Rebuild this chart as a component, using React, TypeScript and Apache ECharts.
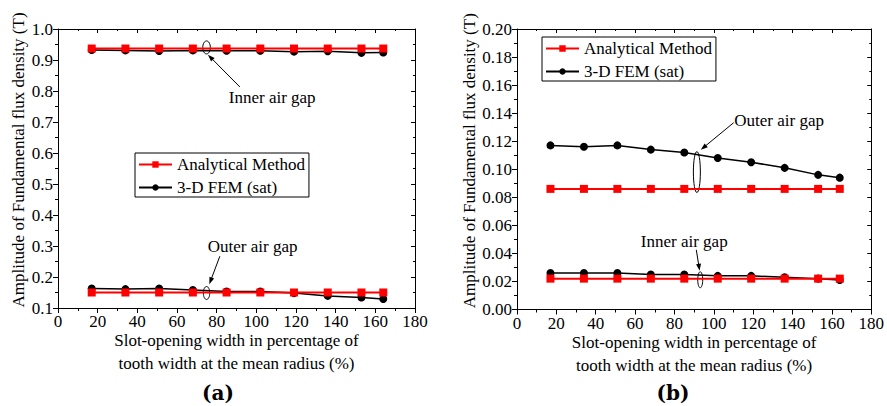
import React, { useEffect, useRef } from 'react';
import * as echarts from 'echarts';

// Slot-opening width (% of tooth width at the mean radius)
const xValues = [17, 34, 51, 68, 85, 102, 119, 136, 153, 164];

// (a) inner / outer air gap
const aInnerAnalytical = [0.937, 0.937, 0.937, 0.937, 0.937, 0.937, 0.937, 0.937, 0.937, 0.937];
const aInnerFem = [0.932, 0.931, 0.929, 0.931, 0.930, 0.930, 0.927, 0.928, 0.923, 0.924];
const aOuterAnalytical = [0.150, 0.150, 0.150, 0.150, 0.150, 0.150, 0.150, 0.150, 0.150, 0.150];
const aOuterFem = [0.163, 0.161, 0.163, 0.158, 0.153, 0.153, 0.148, 0.139, 0.134, 0.129];

// (b) outer / inner air gap
const bOuterAnalytical = [0.086, 0.086, 0.086, 0.086, 0.086, 0.086, 0.086, 0.086, 0.086, 0.086];
const bOuterFem = [0.117, 0.116, 0.117, 0.114, 0.112, 0.108, 0.105, 0.101, 0.096, 0.094];
const bInnerAnalytical = [0.022, 0.022, 0.022, 0.022, 0.022, 0.022, 0.022, 0.022, 0.022, 0.022];
const bInnerFem = [0.026, 0.026, 0.026, 0.025, 0.025, 0.024, 0.024, 0.023, 0.022, 0.021];

const seriesNames = ['Analytical Method', '3-D FEM (sat)'];
const xTitle = 'Slot-opening width in percentage of\ntooth width at the mean radius (%)';
const yTitle = 'Amplitude of Fundamental flux density (T)';
const panelLabels = ['(a)', '(b)'];

// annotations in data coordinates: [grid, text, textX, textY, arrowFromX, arrowFromY, arrowToX, arrowToY, ellipseX, ellipseY, rx, ry]
const annotations: [number, string, number, number, number, number, number, number, number, number, number, number][] = [
  [0, 'Inner air gap', 86.1, 0.778, 91.7, 0.813, 75.6, 0.917, 74.9, 0.9405, 3.8, 6.5],
  [0, 'Outer air gap', 75.5, 0.297, 81.6, 0.267, 76.3, 0.1765, 74.9, 0.1484, 3.2, 6.5],
  [1, 'Outer air gap', 110.4, 0.1348, 110.1, 0.1332, 93.4, 0.1139, 91.4, 0.098, 3.5, 20.5],
  [1, 'Inner air gap', 62.9, 0.0485, 91.1, 0.0426, 92.8, 0.0276, 93.1, 0.0212, 2.5, 8],
];

const FONT = 'Liberation Serif';

const pairs = (ys: number[]) => xValues.map((x, i) => [x, ys[i]]);

function makeSeries(name: string, data: number[][], idx: number, analytical: boolean) {
  return {
    type: 'line',
    name,
    xAxisIndex: idx * 2,
    yAxisIndex: idx * 2,
    data,
    symbol: analytical ? 'rect' : 'circle',
    symbolSize: 8,
    z: analytical ? 3 : 2,
    itemStyle: { color: analytical ? '#ff0000' : '#000000' },
    lineStyle: { color: analytical ? '#ff0000' : '#000000', width: analytical ? 2 : 1.5 },
  };
}

function xAxes(grid: number) {
  const common = {
    gridIndex: grid,
    type: 'value',
    min: 0,
    max: 180,
    interval: 20,
    splitLine: { show: false },
    axisLine: { show: true, onZero: false, lineStyle: { color: '#000', width: 1 } },
  };
  return [
    {
      ...common,
      position: 'bottom',
      axisTick: { show: true, inside: false, length: 5, lineStyle: { color: '#000' } },
      minorTick: { show: true, splitNumber: 2, length: 3, lineStyle: { color: '#000' } },
      axisLabel: { color: '#000', fontFamily: FONT, fontSize: 17, margin: 5 },
      name: xTitle,
      nameLocation: 'middle',
      nameGap: 21,
      nameMoveOverlap: false,
      nameTextStyle: { color: '#000', fontFamily: FONT, fontSize: 17, lineHeight: 23 },
    },
    {
      ...common,
      position: 'top',
      axisTick: { show: true, inside: true, length: 4, lineStyle: { color: '#000' } },
      minorTick: { show: true, splitNumber: 2, length: 2, lineStyle: { color: '#000' } },
      axisLabel: { show: false },
    },
  ];
}

function yAxes(grid: number, min: number, max: number, interval: number, digits: number, nameGap: number) {
  const common = {
    gridIndex: grid,
    type: 'value',
    min,
    max,
    interval,
    splitLine: { show: false },
    axisLine: { show: true, onZero: false, lineStyle: { color: '#000', width: 1 } },
  };
  return [
    {
      ...common,
      position: 'left',
      axisTick: { show: true, inside: false, length: 5, lineStyle: { color: '#000' } },
      minorTick: { show: true, splitNumber: 2, length: 3, lineStyle: { color: '#000' } },
      axisLabel: {
        color: '#000',
        fontFamily: FONT,
        fontSize: 17,
        margin: 5,
        formatter: (v: number) => v.toFixed(digits),
      },
      name: yTitle,
      nameLocation: 'middle',
      nameGap,
      nameMoveOverlap: false,
      nameTextStyle: { color: '#000', fontFamily: FONT, fontSize: 17, padding: [0, 0, 0, 17] },
    },
    {
      ...common,
      position: 'right',
      axisTick: { show: true, inside: true, length: 4, lineStyle: { color: '#000' } },
      minorTick: { show: true, splitNumber: 2, length: 2, lineStyle: { color: '#000' } },
      axisLabel: { show: false },
    },
  ];
}

function legend(left: number, top: number) {
  return {
    show: true,
    left,
    top,
    orient: 'vertical',
    data: seriesNames,
    selectedMode: false,
    borderColor: '#000',
    borderWidth: 1,
    padding: [3, 4, 1, 3],
    itemWidth: 33,
    itemHeight: 8,
    itemGap: 6,
    textStyle: { color: '#000', fontFamily: FONT, fontSize: 17 },
  };
}

export default function App() {
  const ref = useRef<HTMLDivElement>(null);

  useEffect(() => {
    if (!ref.current) return;
    const chart = echarts.init(ref.current, undefined, { renderer: 'svg' });
    const option: any = {
      animation: false,
      backgroundColor: '#ffffff',
      textStyle: { fontFamily: FONT },
      grid: [
        { left: 58, right: 472, top: 29, bottom: 98 },
        { left: 517, right: 13, top: 29, bottom: 96.5 },
      ],
      xAxis: [...xAxes(0), ...xAxes(1)],
      yAxis: [...yAxes(0, 0.1, 1.0, 0.1, 1, 31), ...yAxes(1, 0, 0.2, 0.02, 2, 39)],
      legend: [legend(135, 153), legend(542, 37)],
      series: [
        makeSeries(seriesNames[1], pairs(aInnerFem), 0, false),
        makeSeries(seriesNames[0], pairs(aInnerAnalytical), 0, true),
        makeSeries(seriesNames[1], pairs(aOuterFem), 0, false),
        makeSeries(seriesNames[0], pairs(aOuterAnalytical), 0, true),
        makeSeries(seriesNames[1], pairs(bOuterFem), 1, false),
        makeSeries(seriesNames[0], pairs(bOuterAnalytical), 1, true),
        makeSeries(seriesNames[1], pairs(bInnerFem), 1, false),
        makeSeries(seriesNames[0], pairs(bInnerAnalytical), 1, true),
      ],
    };
    chart.setOption(option);

    const graphics: any[] = [];
    annotations.forEach(([g, text, tx, ty, fx, fy, ex, ey, cx, cy, rx, ry]) => {
      const tp = chart.convertToPixel({ gridIndex: g } as any, [tx, ty]) as number[];
      const fp = chart.convertToPixel({ gridIndex: g } as any, [fx, fy]) as number[];
      const ep = chart.convertToPixel({ gridIndex: g } as any, [ex, ey]) as number[];
      const cp = chart.convertToPixel({ gridIndex: g } as any, [cx, cy]) as number[];
      graphics.push({
        type: 'text',
        x: tp[0],
        y: tp[1],
        style: {
          text,
          fill: '#000',
          fontFamily: FONT,
          fontSize: 17,
          align: 'left',
          verticalAlign: 'middle',
        },
      });
      graphics.push({
        type: 'ellipse',
        shape: { cx: cp[0], cy: cp[1], rx, ry },
        style: { fill: 'none', stroke: '#000', lineWidth: 1 },
      });
      const dx = ep[0] - fp[0];
      const dy = ep[1] - fp[1];
      const len = Math.sqrt(dx * dx + dy * dy) || 1;
      const ux = dx / len;
      const uy = dy / len;
      const L = 7;
      const W = 2.5;
      graphics.push({
        type: 'line',
        shape: { x1: fp[0], y1: fp[1], x2: ep[0] - ux * L * 0.8, y2: ep[1] - uy * L * 0.8 },
        style: { stroke: '#000', lineWidth: 1 },
      });
      graphics.push({
        type: 'polygon',
        shape: {
          points: [
            [ep[0], ep[1]],
            [ep[0] - ux * L - uy * W, ep[1] - uy * L + ux * W],
            [ep[0] - ux * L + uy * W, ep[1] - uy * L - ux * W],
          ],
        },
        style: { fill: '#000' },
      });
    });
    const labelX = [218, 673];
    panelLabels.forEach((t, i) => {
      graphics.push({
        type: 'text',
        x: labelX[i],
        y: 393,
        style: {
          text: t,
          fill: '#000',
          fontFamily: 'DejaVu Serif',
          fontWeight: 'bold',
          fontSize: 20,
          align: 'center',
          verticalAlign: 'middle',
        },
      });
    });
    chart.setOption({ graphic: graphics });

    return () => chart.dispose();
  }, []);

  return (
    <div
      ref={ref}
      style={{ position: 'fixed', left: 0, top: 0, width: 887, height: 406, background: '#fff' }}
    />
  );
}
